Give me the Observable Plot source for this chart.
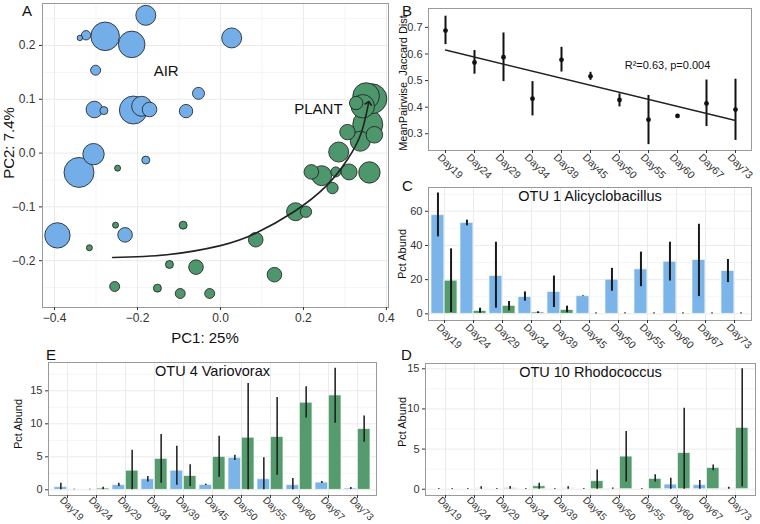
<!DOCTYPE html>
<html><head><meta charset="utf-8">
<script src="https://cdn.jsdelivr.net/npm/d3@7"></script>
<script src="https://cdn.jsdelivr.net/npm/@observablehq/plot@0.6"></script>
<style>
body{margin:0;background:#fff;}
#fig{position:relative;width:760px;height:524px;font-family:"Liberation Sans",Arial,sans-serif;overflow:hidden;background:#fff;}
#fig svg{position:absolute;}
</style></head><body><div id="fig"></div>
<script>
// ---------- DATA ----------
const days = ["Day19","Day24","Day29","Day34","Day39","Day45","Day50","Day55","Day60","Day67","Day73"];

// Panel A: PCoA
const airPC1 = [-0.180,-0.339,-0.324,-0.278,-0.214,0.027,-0.301,-0.053,-0.304,-0.281,-0.190,-0.171,-0.210,-0.083,-0.306,-0.341,-0.180,-0.393,-0.230];
const airPC2 = [0.256,0.214,0.219,0.217,0.202,0.214,0.154,0.111,0.081,0.079,0.087,0.081,0.080,0.078,-0.002,-0.036,-0.013,-0.153,-0.152];
const airSize = [10,2.7,4.7,14.3,13.3,10,5,6,8.3,4,10,7.3,14,6.7,10.7,15,4,12.7,7.3];
const plantPC1 = [-0.248,-0.253,-0.316,-0.090,-0.123,-0.059,-0.255,-0.152,-0.097,-0.026,0.085,0.130,0.181,0.206,0.270,0.219,0.244,0.278,0.310,0.359,0.285,0.306,0.337,0.371,0.355,0.327,0.351,0.365,0.343];
const plantPC2 = [-0.028,-0.134,-0.176,-0.134,-0.207,-0.212,-0.248,-0.251,-0.261,-0.261,-0.161,-0.226,-0.109,-0.109,-0.065,-0.035,-0.042,-0.035,-0.035,-0.036,0.002,0.039,0.022,0.034,0.053,0.093,0.106,0.101,0.087];
const plantSize = [3,3,3,4,4,7.3,5,4,5,5,7.3,7.3,9,5.7,5.7,7.3,10,5,8,10.7,10,7.7,10,8.3,15,6.7,13.3,15,11.7];
const trendPC1 = [-0.260,-0.129,0.000,0.085,0.177,0.254,0.306,0.339,0.357];
const trendPC2 = [-0.194,-0.189,-0.172,-0.149,-0.109,-0.062,-0.012,0.037,0.093];
const groupNames = ["AIR","PLANT"];
const groupLabelPC1 = [-0.131,0.236];
const groupLabelPC2 = [0.152,0.081];
const aTicksX = [-0.4,-0.2,0,0.2,0.4];
const aTicksY = [-0.2,-0.1,0,0.1,0.2];

// Panel B: mean pairwise Jaccard distance
const jaccMean = [0.688,0.568,0.588,0.432,0.578,0.516,0.427,0.353,0.367,0.414,0.391];
const jaccLo   = [0.635,0.524,0.496,0.367,0.532,0.501,0.401,0.259,0.364,0.327,0.275];
const jaccHi   = [0.742,0.613,0.679,0.496,0.625,0.531,0.450,0.444,0.370,0.502,0.505];
const fitDays = ["Day19","Day73"];
const fitVals = [0.615,0.350];
const statText = ["R\u00b2=0.63, p=0.004"];
const statDay = ["Day55"];
const statVal = [0.556];
const bTicksY = [0.3,0.4,0.5,0.6,0.7];

// Panel C: OTU 1 Alicyclobacillus
const otu1Air     = [57.7,53.2,22.1,9.9,12.8,10.3,20.0,26.0,30.5,31.5,25.0];
const otu1AirLo   = [45.0,51.5,3.3,7.4,3.7,10.1,13.2,15.9,19.2,10.1,18.3];
const otu1AirHi   = [70.7,54.8,41.9,12.8,22.1,10.5,26.6,36.1,41.9,52.4,31.8];
const otu1Plant   = [19.4,1.7,4.7,0.8,2.3,0,0,0,0,0,0];
const otu1PlantLo = [0.8,0.4,1.7,0.2,0.6,0,0,0,0,0,0];
const otu1PlantHi = [38.0,3.3,7.2,1.2,4.5,0.5,0.5,0.5,0.5,0.5,0.5];

// Panel E: OTU 4 Variovorax
const otu4Air     = [0.4,0,0.7,1.6,2.9,0.75,4.85,1.6,0.7,1.1,0.2];
const otu4AirLo   = [0,0,0.5,1.2,0.7,0.65,4.45,0,0,0.95,0.05];
const otu4AirHi   = [1.0,0.1,1.0,2.0,6.6,0.85,5.25,4.85,1.7,1.25,0.35];
const otu4Plant   = [0,0.2,2.9,4.7,2.1,5.0,7.9,8.0,13.2,14.3,9.2];
const otu4PlantLo = [0,0,0,1.0,0.5,1.9,0,2.2,10.9,10.1,7.2];
const otu4PlantHi = [0.1,0.4,6.0,8.4,3.8,8.1,16.1,14.0,15.6,18.4,11.2];

// Panel D: OTU 10 Rhodococcus
const otu10Air     = [0,0,0,0,0,0,0.08,0,0.58,0.5,0.1];
const otu10AirLo   = [0,0,0,0,0,0,0,0,0,0,0];
const otu10AirHi   = [0.1,0.1,0.1,0.1,0.1,0.1,0.15,0.1,1.37,1.08,0.25];
const otu10Plant   = [0,0.1,0.12,0.37,0.1,1.0,4.07,1.3,4.5,2.66,7.65];
const otu10PlantLo = [0,0,0,0,0,0,0.9,0.9,0,2.3,0.3];
const otu10PlantHi = [0.1,0.3,0.35,0.75,0.3,2.4,7.2,1.8,10.1,3.03,15.0];

// ---------- STYLE ----------
const blue = "#74aee8", green = "#4e966c";
const barBlue = "#7ab4e8", barGreen = "#559b6e";
const gridC = "#ebebeb", minorC = "#f5f5f5", frameC = "#9a9a9a";
const font = "'Liberation Sans', Arial, sans-serif";
const fig = document.getElementById("fig");
function place(svg, left, top) {
  svg.style.left = left + "px"; svg.style.top = top + "px";
  fig.appendChild(svg);
}
const baseStyle = {background: "transparent", fontFamily: font, fontSize: "11px", color: "#333", overflow: "visible"};
// rotated day labels: ticks and text as separate axis marks
function dayAxis(pad = 5, fs = 10.5) {
  return [
    Plot.axisX({tickSize: 3, tickFormat: null, label: null}),
    Plot.axisX({tickSize: 0, tickPadding: pad, tickRotate: 45, dx: -6, label: null, fontSize: fs})
  ];
}

// ---------- PANEL A ----------
const airPts = airPC1.map((x, i) => ({pc1: x, pc2: airPC2[i], size: airSize[i]}));
const plantPts = plantPC1.map((x, i) => ({pc1: x, pc2: plantPC2[i], size: plantSize[i]}));
const trend = trendPC1.map((x, i) => ({pc1: x, pc2: trendPC2[i]}));
const groupLbls = groupNames.map((n, i) => ({name: n, pc1: groupLabelPC1[i], pc2: groupLabelPC2[i]}));
const plotA = Plot.plot({
  width: 395, height: 335, marginLeft: 42, marginRight: 7, marginTop: 3, marginBottom: 28,
  x: {domain: [-0.429, 0.405], label: null},
  y: {domain: [-0.287, 0.278], label: null},
  r: {type: "linear", domain: [0, 15], range: [0, 15]},
  style: {...baseStyle, fontSize: "12px"},
  marks: [
    Plot.gridX([-0.3,-0.1,0.1,0.3], {stroke: minorC, strokeOpacity: 1}),
    Plot.gridY([-0.25,-0.15,-0.05,0.05,0.15,0.25], {stroke: minorC, strokeOpacity: 1}),
    Plot.gridX(aTicksX, {stroke: gridC, strokeOpacity: 1}),
    Plot.gridY(aTicksY, {stroke: gridC, strokeOpacity: 1}),
    Plot.dot(airPts, {x: "pc1", y: "pc2", r: "size", fill: blue, stroke: "#1a1a1a", strokeWidth: 0.8}),
    Plot.dot(plantPts, {x: "pc1", y: "pc2", r: "size", fill: green, stroke: "#1a1a1a", strokeWidth: 0.8}),
    Plot.line(trend, {x: "pc1", y: "pc2", curve: "natural", stroke: "#222", strokeWidth: 1.6, markerEnd: "arrow"}),
    Plot.text(groupLbls, {x: "pc1", y: "pc2", text: "name", fontSize: 15, fill: "#111"}),
    Plot.frame({stroke: frameC}),
    Plot.axisX({ticks: aTicksX, tickFormat: d3.format(".1f"), tickSize: 3, tickPadding: 3, label: null}),
    Plot.axisY({ticks: aTicksY, tickFormat: d3.format(".1f"), tickSize: 3, tickPadding: 4, label: null})
  ]
});
place(plotA, 0, 0);

// ---------- PANEL B ----------
const jaccRows = days.map((d, i) => ({day: d, mean: jaccMean[i], lo: jaccLo[i], hi: jaccHi[i]}));
const fitRows = fitDays.map((d, i) => ({day: d, v: fitVals[i]}));
const statRows = statText.map((t, i) => ({t, day: statDay[i], v: statVal[i]}));
const plotB = Plot.plot({
  width: 365, height: 182, marginLeft: 33, marginRight: 9, marginTop: 8, marginBottom: 32,
  x: {type: "point", domain: days, padding: 0.5, label: null},
  y: {domain: [0.237, 0.771], label: null},
  style: baseStyle,
  marks: [
    Plot.ruleX(jaccRows, {x: "day", y1: "lo", y2: "hi", stroke: "#111", strokeWidth: 2}),
    Plot.dot(jaccRows, {x: "day", y: "mean", r: 2.4, fill: "#111"}),
    Plot.line(fitRows, {x: "day", y: "v", stroke: "#222", strokeWidth: 1.4}),
    Plot.text(statRows, {x: "day", y: "v", text: "t", dx: 19, fontSize: 11, fill: "#111"}),
    Plot.frame({stroke: frameC}),
    ...dayAxis(),
    Plot.axisY({ticks: bTicksY, tickFormat: d3.format(".1f"), tickSize: 3, tickPadding: 3, label: null})
  ]
});
place(plotB, 395, 0);

// ---------- BAR PANELS ----------
function barPanel(o) {
  const rows = days.map((d, i) => ({
    day: d, air: o.air[i], airLo: o.airLo[i], airHi: o.airHi[i],
    plant: o.plant[i], plantLo: o.plantLo[i], plantHi: o.plantHi[i]
  }));
  const bw = d3.scaleBand(days, [o.ml, o.width - o.mr]).padding(0.1).bandwidth();
  return Plot.plot({
    width: o.width, height: o.height, marginLeft: o.ml, marginRight: o.mr, marginTop: o.mt, marginBottom: o.mb,
    x: {type: "band", domain: days, padding: 0.1, label: null},
    y: {domain: o.yDomain, label: null},
    style: baseStyle,
    marks: [
      Plot.gridY(o.minor, {stroke: minorC, strokeOpacity: 1}),
      Plot.gridY(o.yTicks, {stroke: gridC, strokeOpacity: 1}),
      Plot.gridX(days, {stroke: gridC, strokeOpacity: 1}),
      Plot.barY(rows, {x: "day", y: "air", fill: barBlue, insetRight: bw / 2, stroke: "#eef6ee", strokeWidth: 0.8}),
      Plot.barY(rows, {x: "day", y: "plant", fill: barGreen, insetLeft: bw / 2, stroke: "#eef6ee", strokeWidth: 0.8}),
      Plot.ruleX(rows, {x: "day", y1: "airLo", y2: "airHi", dx: -bw / 4, stroke: "#1a1a1a", strokeWidth: o.errW}),
      Plot.ruleX(rows, {x: "day", y1: "plantLo", y2: "plantHi", dx: bw / 4, stroke: "#1a1a1a", strokeWidth: o.errW}),
      Plot.text([o.title], {frameAnchor: "top", lineAnchor: "top", dy: 3, fontSize: 14.5, fill: "#111"}),
      Plot.frame({stroke: frameC}),
      ...dayAxis(o.pad, o.fs),
      Plot.axisY({ticks: o.yTicks, tickSize: 3, tickPadding: 3, label: null})
    ]
  });
}

const plotC = barPanel({
  air: otu1Air, airLo: otu1AirLo, airHi: otu1AirHi, plant: otu1Plant, plantLo: otu1PlantLo, plantHi: otu1PlantHi,
  title: "OTU 1 Alicyclobacillus", yDomain: [-3.9, 73.9], yTicks: [0, 20, 40, 60], minor: [10, 30, 50, 70],
  width: 365, height: 182, ml: 33, mr: 9, mt: 17, mb: 32, errW: 2
});
place(plotC, 395, 170);

const plotE = barPanel({
  air: otu4Air, airLo: otu4AirLo, airHi: otu4AirHi, plant: otu4Plant, plantLo: otu4PlantLo, plantHi: otu4PlantHi,
  title: "OTU 4 Variovorax", yDomain: [-0.86, 19.29], yTicks: [0, 5, 10, 15], minor: [2.5, 7.5, 12.5, 17.5],
  width: 390, height: 179, ml: 48, mr: 14, mt: 17, mb: 29, errW: 1.5, pad: 3, fs: 10
});
place(plotE, 0, 345);

const plotD = barPanel({
  air: otu10Air, airLo: otu10AirLo, airHi: otu10AirHi, plant: otu10Plant, plantLo: otu10PlantLo, plantHi: otu10PlantHi,
  title: "OTU 10 Rhodococcus", yDomain: [-0.78, 15.66], yTicks: [0, 5, 10, 15], minor: [2.5, 7.5, 12.5],
  width: 370, height: 179, ml: 35, mr: 5, mt: 18, mb: 29, errW: 1.5, pad: 3, fs: 10
});
place(plotD, 390, 345);

// ---------- OVERLAY LABELS ----------
const panelLetters = ["A","B","C","D","E"];
const letterX = [22, 402, 402, 401, 46];
const letterY = [15.5, 15.5, 190.5, 360, 360];
const ov = d3.create("svg").attr("width", 760).attr("height", 524)
  .style("left", "0px").style("top", "0px").style("pointer-events", "none")
  .attr("font-family", font);
panelLetters.forEach((l, i) => ov.append("text").attr("x", letterX[i]).attr("y", letterY[i]).attr("font-size", 15).attr("fill", "#111").text(l));
ov.append("text").attr("x", 205).attr("y", 343).attr("text-anchor", "middle").attr("font-size", 15).attr("fill", "#111").text("PC1: 25%");
const rotLabels = [
  {t: "PC2: 7.4%", x: 14, y: 143, s: 15},
  {t: "MeanPairwise  Jaccard Dist", x: 407, y: 83, s: 11},
  {t: "Pct Abund", x: 406, y: 254, s: 11},
  {t: "Pct Abund", x: 22, y: 424, s: 11},
  {t: "Pct Abund", x: 406, y: 422, s: 11}
];
rotLabels.forEach(r => ov.append("text").attr("transform", `translate(${r.x},${r.y}) rotate(-90)`)
  .attr("text-anchor", "middle").attr("font-size", r.s).attr("fill", "#111").style("white-space", "pre").text(r.t));
fig.appendChild(ov.node());
</script></body></html>
